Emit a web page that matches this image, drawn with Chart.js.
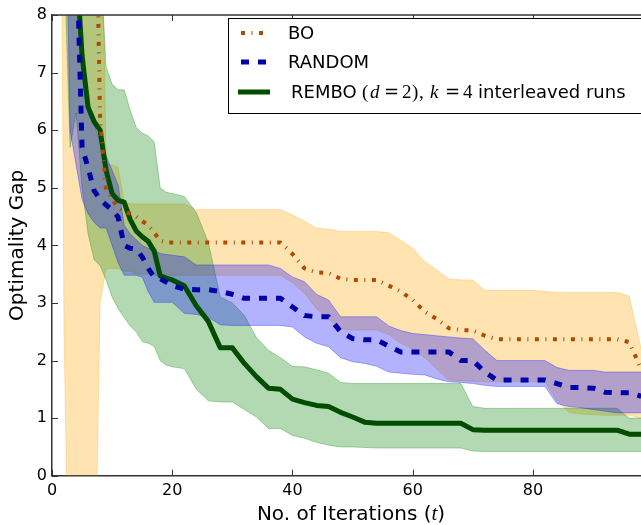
<!DOCTYPE html>
<html>
<head>
<meta charset="utf-8">
<script src="https://cdn.jsdelivr.net/npm/chart.js@4.4.0/dist/chart.umd.min.js"></script>
<style>
	html, body { margin: 0; padding: 0; overflow: hidden; background: #fff; }
	#wrap { width: 660px; height: 525px; }
</style>
</head>
<body>
<div id="wrap"><canvas id="chartA" width="660" height="525"></canvas></div>
<script>
// iterations (x values)
var iters = [1,2,3,4,5,6,7,8,9,10,11,12,13,14,15,16,17,18,19,20,
	22,24,26,28,30,32,34,36,38,40,42,44,46,48,50,52,54,56,58,60,
	62,64,66,68,70,72,74,76,78,80,82,84,86,88,90,92,94,96,98];

// BO
var boMean = [20,18,16,14,13,12.5,12,6.2,4.95,4.8,4.65,4.58,4.55,4.5,4.42,4.35,4.22,4.08,4.05,4.05,
	4.05,4.05,4.05,4.05,4.05,4.05,4.05,4.05,4.05,
	3.85,3.6,3.53,3.52,3.42,3.4,3.4,3.4,3.3,3.2,3.05,2.85,2.72,2.56,2.53,2.52,
	2.43,2.37,2.37,2.37,2.37,2.37,2.37,2.37,2.37,2.37,2.37,2.37,2.32,1.85];
var boLow = [20,2.5,-3.5,-6,-7,-5,-3,3,3.6,3.6,3.6,3.55,3.55,3.5,3.5,3.5,3.48,3.48,3.48,3.48,
	3.48,3.48,3.48,3.48,3.48,3.48,3.48,3.48,3.48,
	3.35,3.17,2.9,2.72,2.55,2.53,2.53,2.53,2.45,2.3,2.2,2.05,1.85,1.66,1.65,1.64,
	1.63,1.63,1.63,1.63,1.63,1.63,1.3,1.1,1.07,1.06,1.05,1.05,1.05,1.0];
var boHigh = [20,20,20,20,20,18,15,12,5.4,5.4,5.35,4.75,4.72,4.72,4.72,4.72,4.72,4.72,4.72,4.72,
	4.72,4.62,4.62,4.62,4.62,4.62,4.62,4.62,4.62,
	4.53,4.42,4.3,4.28,4.24,4.24,4.24,4.24,4.22,4.09,3.95,3.72,3.57,3.42,3.4,3.4,
	3.22,3.22,3.22,3.22,3.22,3.2,3.18,3.18,3.18,3.18,3.18,3.18,3.12,2.2];

// RANDOM
var rndMean = [20,16,12,9.5,5.7,5.35,4.95,4.8,4.7,4.62,4.49,4.0,3.95,3.93,3.8,3.6,3.45,3.42,3.36,3.3,
	3.24,3.23,3.23,3.2,3.15,3.08,3.08,3.08,3.08,
	2.93,2.78,2.76,2.76,2.5,2.38,2.36,2.36,2.25,2.15,2.15,2.15,2.15,2.15,2.0,2.0,
	1.8,1.66,1.66,1.66,1.66,1.66,1.6,1.53,1.53,1.52,1.45,1.44,1.44,1.38];
var rndLow = [20,12,6.0,5.4,4.8,4.55,4.4,4.3,4.3,4.0,3.7,3.48,3.48,3.48,3.45,3.2,3.01,3.01,3.01,3.01,
	2.82,2.8,2.75,2.62,2.61,2.61,2.61,2.61,2.61,
	2.58,2.41,2.3,2.24,2.05,1.98,1.95,1.9,1.8,1.78,1.76,1.75,1.68,1.63,1.62,1.6,
	1.57,1.55,1.55,1.55,1.55,1.55,1.25,1.2,1.18,1.15,1.12,1.09,1.09,1.09];
var rndHigh = [20,20,16,9.6,7.3,6.45,6.1,5.8,5.55,5.3,5.05,4.35,4.2,4.1,4.0,3.95,3.92,3.86,3.84,3.83,
	3.8,3.66,3.66,3.66,3.66,3.66,3.66,3.66,3.6,
	3.45,3.37,3.15,3.05,2.76,2.76,2.76,2.76,2.6,2.52,2.47,2.45,2.43,2.41,2.39,2.38,
	2.18,2.0,2.0,2.0,2.0,2.0,1.88,1.83,1.83,1.83,1.8,1.8,1.8,1.8];

// REMBO
var remMean = [20,16,12,9,7.3,6.4,6.15,6.0,5.3,4.9,4.78,4.75,4.45,4.25,4.15,4.07,3.9,3.47,3.43,3.4,
	3.3,2.95,2.68,2.22,2.22,1.95,1.72,1.52,1.5,
	1.33,1.27,1.22,1.2,1.1,1.02,0.93,0.91,0.91,0.91,0.91,0.91,0.91,0.91,0.91,0.8,
	0.79,0.79,0.79,0.79,0.79,0.79,0.79,0.79,0.79,0.79,0.79,0.79,0.72,0.72];
var remLow = [20,9,5.7,6.3,5.0,4.2,3.75,3.65,3.4,3.1,2.9,2.75,2.6,2.5,2.33,2.3,2.25,2.0,1.92,1.89,
	1.86,1.5,1.3,1.28,1.28,1.15,1.02,0.82,0.82,
	0.7,0.65,0.58,0.53,0.5,0.5,0.49,0.48,0.48,0.48,0.48,0.48,0.48,0.48,0.48,0.43,
	0.42,0.42,0.42,0.42,0.42,0.42,0.42,0.42,0.42,0.42,0.42,0.42,0.42,0.42];
var remHigh = [20,20,20,16,12,10,9.5,9,7.1,6.8,6.7,6.7,6.35,6.05,5.95,5.9,5.8,5.0,4.92,4.9,
	4.85,4.57,4.05,3.1,3.0,2.78,2.4,2.18,2.05,
	1.9,1.89,1.84,1.78,1.62,1.6,1.6,1.6,1.6,1.6,1.6,1.6,1.6,1.6,1.6,1.2,
	1.17,1.17,1.17,1.17,1.17,1.17,1.17,1.17,1.17,1.17,1.17,1.17,1.0,1.0];

var xTicks = [0,20,40,60,80,100];

// colors + dashes
var boColor = '#b04a00', rndColor = '#0000a8', remColor = '#004d00';
var boDash = [4,6.5,1,6.5], rndDash = [8,9];

function pts(arr){
	return iters.map(function(t,i){ return {x: t, y: arr[i]}; });
}

function meanSet(label, arr, color, width, dash, order){
	return {label: label, data: pts(arr), borderColor: color, borderWidth: width, borderDash: dash,
		borderCapStyle: 'butt', borderJoinStyle: 'round', pointRadius: 0, tension: 0, fill: false, order: order, clip: 0};
}
function bandSet(arr, rgba, order, fill){
	return {label: '', data: pts(arr), borderColor: rgba, backgroundColor: rgba, borderWidth: 1,
		pointRadius: 0, tension: 0, fill: fill, order: order, clip: 0};
}

// draw text parts one after another
function drawParts(ctx, x, y, parts){
	parts.forEach(function(p){
		ctx.font = p[1];
		if (p.length > 2) x = p[2];
		ctx.fillText(p[0], x, y);
		x += ctx.measureText(p[0]).width;
	});
	return x;
}

var sans18 = '18px "DejaVu Sans"', serif19 = '19px "Liberation Serif"', serifIt19 = 'italic 19px "Liberation Serif"';
var eq19 = '18px "DejaVu Serif"';

// legend box, x title, inner ticks
var decor = {
	id: 'decor',
	afterDraw: function(chart){
		var ctx = chart.ctx, a = chart.chartArea, sx = chart.scales.x, sy = chart.scales.y;
		ctx.save();

		// top spine + inside ticks
		ctx.strokeStyle = '#333';
		ctx.lineWidth = 1.5;
		ctx.beginPath();
		ctx.moveTo(a.left, a.top); ctx.lineTo(a.right, a.top);
		ctx.stroke();
		ctx.lineWidth = 1;
		ctx.beginPath();
		xTicks.forEach(function(v){
			var px = Math.round(sx.getPixelForValue(v)) + 0.5;
			ctx.moveTo(px, a.bottom); ctx.lineTo(px, a.bottom - 6);
			ctx.moveTo(px, a.top); ctx.lineTo(px, a.top + 6);
		});
		sy.ticks.forEach(function(t){
			var py = Math.round(sy.getPixelForValue(t.value)) + 0.5;
			ctx.moveTo(a.left, py); ctx.lineTo(a.left + 6, py);
		});
		ctx.stroke();

		// x title
		ctx.fillStyle = '#000';
		ctx.textBaseline = 'alphabetic';
		var xParts = [['No. of Iterations (', '20px "DejaVu Sans"'], ['t', 'italic 21px "Liberation Serif"'], [')', '20px "DejaVu Sans"']];
		var w = 0;
		xParts.forEach(function(p){ ctx.font = p[1]; w += ctx.measureText(p[0]).width; });
		drawParts(ctx, 351 - w / 2, 520, xParts);

		// legend
		ctx.fillStyle = '#fff';
		ctx.fillRect(228.5, 18.5, 460, 95);
		ctx.strokeStyle = '#000';
		ctx.lineWidth = 1;
		ctx.strokeRect(228.5, 18.5, 460, 95);

		ctx.lineCap = 'butt';
		ctx.setLineDash(boDash);
		ctx.strokeStyle = boColor; ctx.lineWidth = 4;
		ctx.beginPath(); ctx.moveTo(241, 33); ctx.lineTo(265, 33); ctx.stroke();
		ctx.setLineDash(rndDash);
		ctx.strokeStyle = rndColor; ctx.lineWidth = 5;
		ctx.beginPath(); ctx.moveTo(241, 62); ctx.lineTo(266, 62); ctx.stroke();
		ctx.setLineDash([]);
		ctx.strokeStyle = remColor; ctx.lineWidth = 5;
		ctx.beginPath(); ctx.moveTo(238, 92); ctx.lineTo(270, 92); ctx.stroke();

		ctx.fillStyle = '#000';
		ctx.textBaseline = 'middle';
		drawParts(ctx, 288, 34, [['BO', sans18]]);
		drawParts(ctx, 288, 63, [['RANDOM', sans18]]);
		drawParts(ctx, 291, 93, [
			['REMBO', sans18],
			['(', serif19, 362], ['d', serifIt19, 370], ['=', eq19, 384], ['2', serif19, 402], [')', serif19, 412], [',', serif19, 419],
			['k', serifIt19, 430], ['=', eq19, 445], ['4', serif19, 463],
			['interleaved runs', sans18, 478]
		]);
		ctx.restore();
	}
};

Chart.defaults.font.family = '"DejaVu Sans"';
Chart.defaults.font.size = 16;
Chart.defaults.color = '#000';

var datasets = [
	meanSet('BO', boMean, boColor, 4, boDash, 0),
	meanSet('RANDOM', rndMean, rndColor, 5, rndDash, 1),
	meanSet('REMBO', remMean, remColor, 5, [], 2),
	bandSet(rndHigh, 'rgba(0,0,255,0.3)', 3, '+1'),
	bandSet(rndLow, 'rgba(0,0,255,0.3)', 3, false),
	bandSet(remHigh, 'rgba(0,128,0,0.3)', 4, '+1'),
	bandSet(remLow, 'rgba(0,128,0,0.3)', 4, false),
	bandSet(boHigh, 'rgba(255,165,0,0.3)', 5, '+1'),
	bandSet(boLow, 'rgba(255,165,0,0.3)', 5, false)
];

new Chart(document.getElementById('chartA'), {
	type: 'line',
	data: {datasets: datasets},
	plugins: [decor],
	options: {
		responsive: false,
		animation: false,
		layout: {padding: {top: 15, left: 0, right: 6.8, bottom: 0}},
		plugins: {legend: {display: false}, tooltip: {enabled: false}},
		scales: {
			x: {
				type: 'linear', min: 0, max: 100,
				grid: {display: false, drawTicks: false},
				border: {display: true, color: '#333', width: 1.5},
				ticks: {stepSize: 20, autoSkip: false, maxRotation: 0, padding: 6,
					callback: function(v){ return v === 100 ? '' : v; }},
				afterFit: function(s){ s.height = 49.3; }
			},
			y: {
				min: 0, max: 8,
				grid: {display: false, drawTicks: false},
				border: {display: true, color: '#333', width: 1.5},
				ticks: {stepSize: 1, padding: 5},
				title: {display: true, text: 'Optimality Gap', font: {size: 20}, padding: {top: 6, bottom: 0}},
				afterFit: function(s){ s.width = 52; }
			}
		}
	}
});
</script>
</body>
</html>
